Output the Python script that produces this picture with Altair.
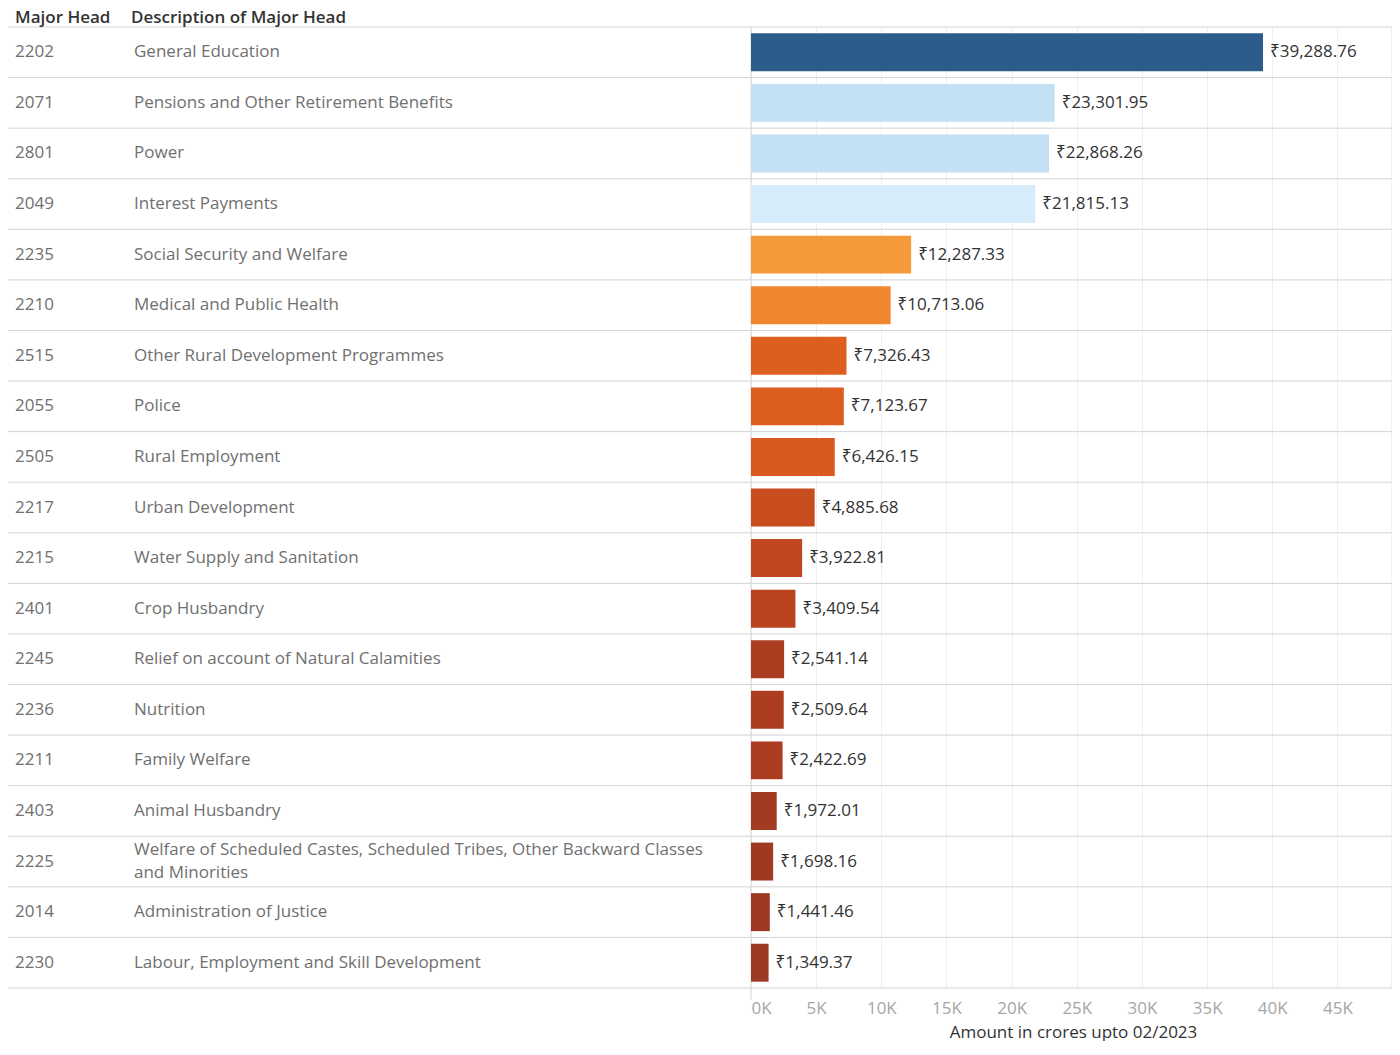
import altair as alt
import pandas as pd

codes = ["2202", "2071", "2801", "2049", "2235", "2210", "2515", "2055", "2505", "2217",
         "2215", "2401", "2245", "2236", "2211", "2403", "2225", "2014", "2230"]
descs = ["General Education", "Pensions and Other Retirement Benefits", "Power",
         "Interest Payments", "Social Security and Welfare", "Medical and Public Health",
         "Other Rural Development Programmes", "Police", "Rural Employment",
         "Urban Development", "Water Supply and Sanitation", "Crop Husbandry",
         "Relief on account of Natural Calamities", "Nutrition", "Family Welfare",
         "Animal Husbandry",
         "Welfare of Scheduled Castes, Scheduled Tribes, Other Backward Classes\nand Minorities",
         "Administration of Justice", "Labour, Employment and Skill Development"]
amounts = [39288.76, 23301.95, 22868.26, 21815.13, 12287.33, 10713.06, 7326.43, 7123.67,
           6426.15, 4885.68, 3922.81, 3409.54, 2541.14, 2509.64, 2422.69, 1972.01, 1698.16,
           1441.46, 1349.37]
colors = ["#2d5b8a", "#c2e0f3", "#c4e1f3", "#d6ecfa", "#f59a3b", "#f0872f", "#de5e1f",
          "#dd5d1f", "#d9591f", "#c74d1e", "#c0471f", "#b9431f", "#ad3d21", "#ad3d21",
          "#ab3c21", "#a33a22", "#a03922", "#9e3823", "#9d3823"]
headers = ["Major Head", "Description  of Major Head"]
tick_values = [0, 5000, 10000, 15000, 20000, 25000, 30000, 35000, 40000, 45000]
axis_title = "Amount in crores upto 02/2023"

W = 1384
H = 961
FONT = "'Open Sans', 'Noto Sans', sans-serif"
FS = 17

df = pd.DataFrame({"code": codes, "desc": descs, "amount": amounts, "idx": list(range(len(codes)))})
lines_df = pd.DataFrame({"line": list(range(len(codes) + 1))})
one_df = pd.DataFrame({"v": [0]})

yscale = alt.Scale(domain=[0, len(codes)], reverse=True, nice=False, zero=False)
xscale = alt.Scale(domain=[-57014, 49186], nice=False, zero=False)

xaxis = alt.Axis(values=tick_values, labelExpr="datum.value/1000 + 'K'",
                 grid=True, gridColor="#efefef",
                 domain=False, ticks=False,
                 labelAlign=alt.condition("datum.value == 0", alt.value("left"), alt.value("center")),
                 labelPadding=12, labelBaseline="top",
                 labelFont=FONT, labelFontSize=FS, labelColor="#a6a6a6",
                 title=axis_title, titleFont=FONT, titleFontSize=FS, titleFontWeight="normal",
                 titleColor="#333333", titleX=1065, titleY=44, titleAlign="center",
                 titleBaseline="middle")

base = alt.Chart(df).transform_calculate(
    y0="datum.idx + 0.125", y1="datum.idx + 0.875", ym="datum.idx + 0.5",
    ymd="datum.idx + 0.5 - (length(split(datum.desc, '\\n')) - 1) * 0.227",
    label="'₹' + format(datum.amount, ',.2f')",
)

rules = alt.Chart(lines_df).mark_rule(color="#d3d3d3", strokeWidth=1).encode(
    x=alt.value(0), x2=alt.value(W), y=alt.Y("line:Q", scale=yscale, axis=None))

zero_line = alt.Chart(one_df).mark_rule(color="#d6d6d6", strokeWidth=1).encode(
    x=alt.X("v:Q", scale=xscale, axis=xaxis), y=alt.value(0), y2=alt.value(H + 12))

right_edge = alt.Chart(one_df).mark_rule(color="#e3e3e3", strokeWidth=1).encode(
    x=alt.value(W), y=alt.value(0), y2=alt.value(H))

bars = base.mark_bar().encode(
    x=alt.X("amount:Q", scale=xscale, axis=xaxis),
    x2=alt.datum(0),
    y=alt.Y("y0:Q", scale=yscale, axis=None),
    y2="y1:Q",
    color=alt.Color("code:N", scale=alt.Scale(domain=codes, range=colors), legend=None),
)

values = base.mark_text(align="left", baseline="middle", dx=7, font=FONT, fontSize=FS,
                        color="#333333").encode(
    x=alt.X("amount:Q", scale=xscale, axis=xaxis),
    y=alt.Y("ym:Q", scale=yscale, axis=None), text="label:N")

code_txt = base.mark_text(align="left", baseline="middle", font=FONT, fontSize=FS,
                          color="#707070").encode(
    x=alt.value(7), y=alt.Y("ym:Q", scale=yscale, axis=None), text="code:N")

desc_txt = base.mark_text(align="left", baseline="middle", font=FONT, fontSize=FS,
                          color="#707070", lineBreak="\n", lineHeight=23).encode(
    x=alt.value(126), y=alt.Y("ymd:Q", scale=yscale, axis=None), text="desc:N")

hdr1 = alt.Chart(one_df).mark_text(align="left", baseline="middle", font=FONT, fontSize=FS,
                                   fontWeight=600, color="#333333", text=headers[0]).encode(
    x=alt.value(7), y=alt.value(-9))
hdr2 = alt.Chart(one_df).mark_text(align="left", baseline="middle", font=FONT, fontSize=FS,
                                   fontWeight=600, color="#333333", text=headers[1]).encode(
    x=alt.value(123), y=alt.value(-9))

chart = alt.layer(rules, zero_line, right_edge, bars, values, code_txt, desc_txt, hdr1, hdr2).properties(
    width=W, height=H,
    autosize=alt.AutoSizeParams(type="none"),
    padding={"left": 0, "top": 19, "right": 0, "bottom": 53},
).configure_view(stroke=None)

chart.save("out.html", embed_options={"renderer": "svg", "actions": False})
